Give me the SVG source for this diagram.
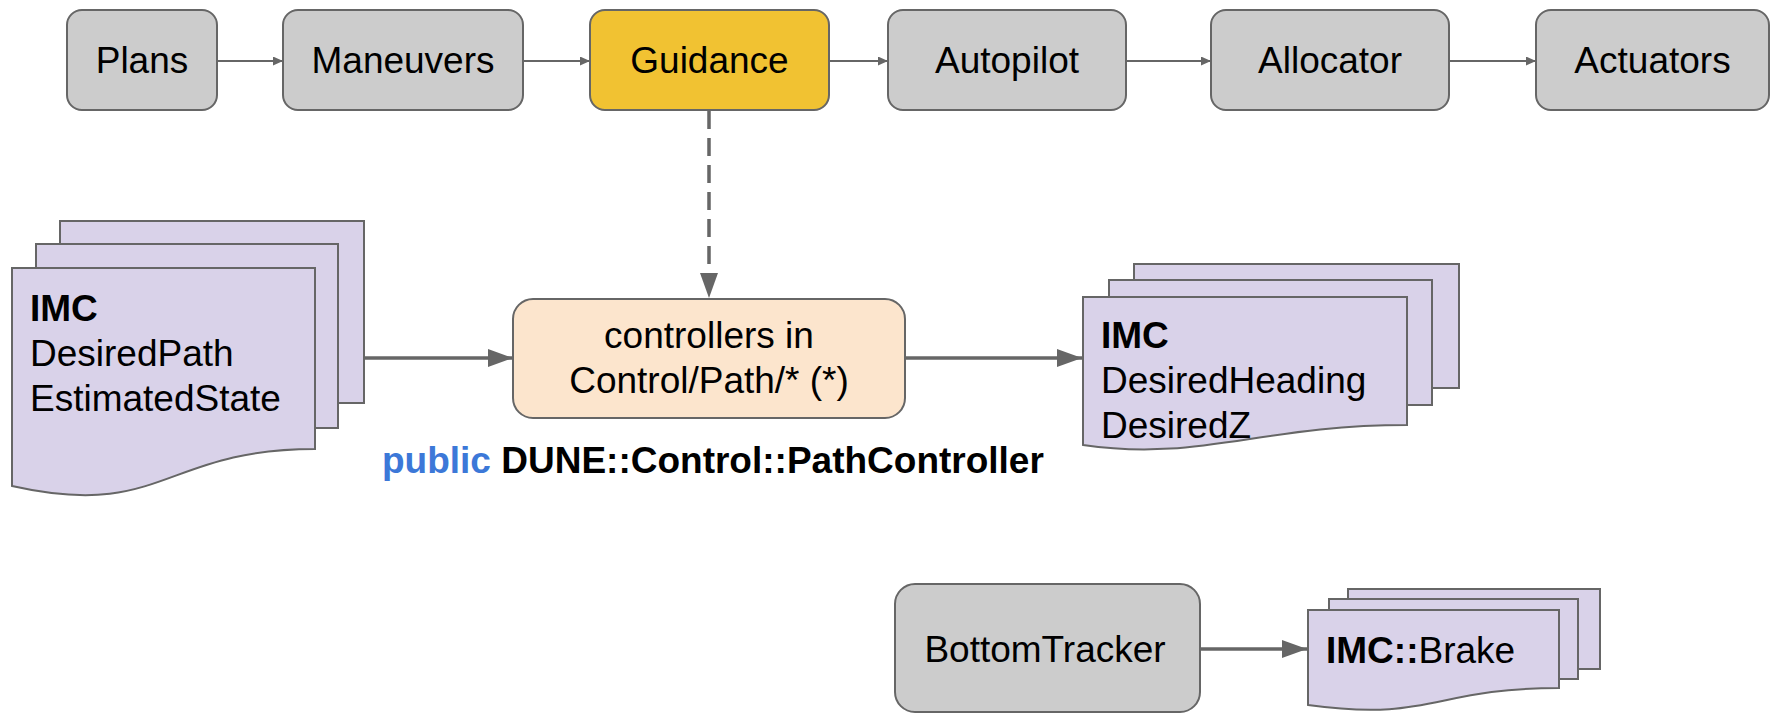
<svg xmlns="http://www.w3.org/2000/svg" width="1771" height="713" viewBox="0 0 1771 713">
<style>
text{font-family:"Liberation Sans",Arial,sans-serif;font-size:37px;fill:#000}
.c{text-anchor:middle}
.b{font-weight:bold}
.box{fill:#cccccc;stroke:#666666;stroke-width:2}
.doc{fill:#d9d2e9;stroke:#666666;stroke-width:2}
.ln{stroke:#666666;fill:none}
</style>
<defs>
<marker id="ahs" viewBox="0 0 10 9" refX="10" refY="4.5" markerWidth="10" markerHeight="9" markerUnits="userSpaceOnUse" orient="auto"><path d="M0,0 L10,4.5 L0,9 Z" fill="#666666"/></marker>
<marker id="ahb" viewBox="0 0 25 18" refX="25" refY="9" markerWidth="25" markerHeight="18" markerUnits="userSpaceOnUse" orient="auto"><path d="M0,0 L25,9 L0,18 Z" fill="#666666"/></marker>
</defs>
<g id="connectors">
<line class="ln" x1="217" y1="61" x2="283" y2="61" stroke-width="2" marker-end="url(#ahs)"/>
<line class="ln" x1="523" y1="61" x2="590" y2="61" stroke-width="2" marker-end="url(#ahs)"/>
<line class="ln" x1="829" y1="61" x2="888" y2="61" stroke-width="2" marker-end="url(#ahs)"/>
<line class="ln" x1="1126" y1="61" x2="1211" y2="61" stroke-width="2" marker-end="url(#ahs)"/>
<line class="ln" x1="1449" y1="61" x2="1536" y2="61" stroke-width="2" marker-end="url(#ahs)"/>
<line class="ln" x1="709" y1="111" x2="709" y2="298" stroke-width="3.5" stroke-dasharray="18 9" marker-end="url(#ahb)"/>
<line class="ln" x1="364" y1="358" x2="513" y2="358" stroke-width="3.5" marker-end="url(#ahb)"/>
<line class="ln" x1="905" y1="358" x2="1082" y2="358" stroke-width="3.5" marker-end="url(#ahb)"/>
<line class="ln" x1="1200" y1="649" x2="1307" y2="649" stroke-width="3.5" marker-end="url(#ahb)"/>
</g>
<g id="plans"><rect class="box" x="67" y="10" width="150" height="100" rx="15"/><text class="c" x="142" y="73">Plans</text></g>
<g id="maneuvers"><rect class="box" x="283" y="10" width="240" height="100" rx="15"/><text class="c" x="403" y="73">Maneuvers</text></g>
<g id="guidance"><rect x="590" y="10" width="239" height="100" rx="15" fill="#f1c232" stroke="#666666" stroke-width="2"/><text class="c" x="709.5" y="73">Guidance</text></g>
<g id="autopilot"><rect class="box" x="888" y="10" width="238" height="100" rx="15"/><text class="c" x="1007" y="73">Autopilot</text></g>
<g id="allocator"><rect class="box" x="1211" y="10" width="238" height="100" rx="15"/><text class="c" x="1330" y="73">Allocator</text></g>
<g id="actuators"><rect class="box" x="1536" y="10" width="233" height="100" rx="15"/><text class="c" x="1652.5" y="73">Actuators</text></g>
<g id="input-docs">
<rect class="doc" x="60" y="221" width="304" height="182"/>
<rect class="doc" x="36" y="244" width="302" height="184"/>
<path class="doc" d="M12,268 H315 V449 C163,449 163,520 12,486 Z"/>
<text x="30" y="321"><tspan class="b">IMC</tspan></text>
<text x="30" y="366">DesiredPath</text>
<text x="30" y="411">EstimatedState</text>
</g>
<g id="controllers">
<rect x="513" y="299" width="392" height="119" rx="20" fill="#fce5cd" stroke="#666666" stroke-width="2"/>
<text class="c" x="709" y="348">controllers in</text>
<text class="c" x="709" y="393">Control/Path/* (*)</text>
</g>
<g id="path-controller-label">
<text class="b" x="382" y="473"><tspan fill="#3c78d8">public</tspan> DUNE::Control::PathController</text>
</g>
<g id="output-docs">
<rect class="doc" x="1134" y="264" width="325" height="124"/>
<rect class="doc" x="1109" y="280" width="323" height="125"/>
<path class="doc" d="M1083,297 H1407 V425 C1260,425 1200,462 1083,445 Z"/>
<text x="1101" y="348"><tspan class="b">IMC</tspan></text>
<text x="1101" y="393">DesiredHeading</text>
<text x="1101" y="438">DesiredZ</text>
</g>
<g id="bottomtracker">
<rect class="box" x="895" y="584" width="305" height="128" rx="20"/>
<text class="c" x="1045" y="662">BottomTracker</text>
</g>
<g id="brake-docs">
<rect class="doc" x="1348" y="589" width="252" height="80"/>
<rect class="doc" x="1329" y="599" width="249" height="80"/>
<path class="doc" d="M1308,610 H1559 V688 C1433,688 1433,722 1308,705 Z"/>
<text x="1326" y="663"><tspan class="b">IMC::</tspan>Brake</text>
</g>
</svg>
